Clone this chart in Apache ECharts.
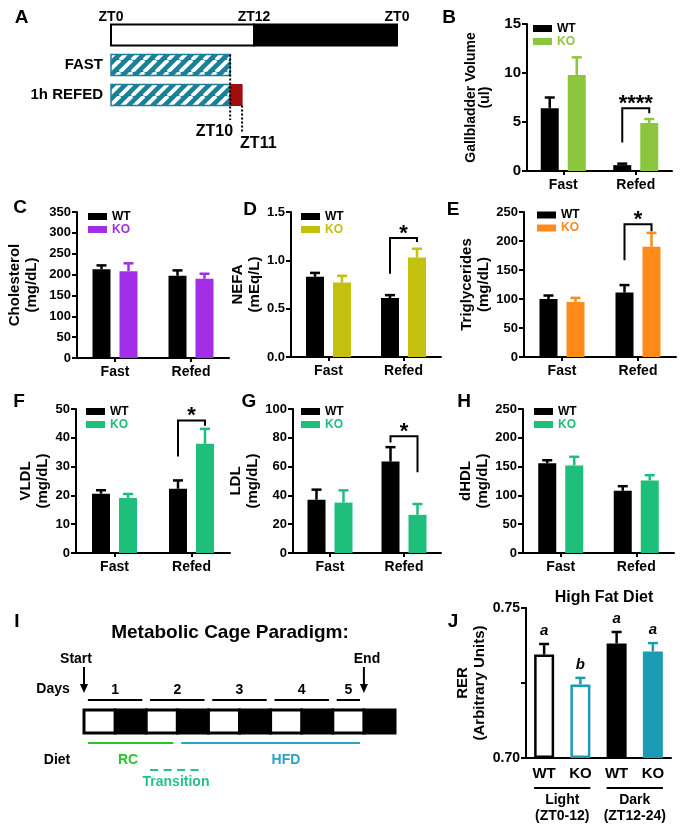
<!DOCTYPE html>
<html>
<head>
<meta charset="utf-8">
<script src="https://cdn.jsdelivr.net/npm/echarts@6/dist/echarts.min.js"></script>
<style>
  html, body { margin: 0; padding: 0; background: #fff; }
  #main { width: 688px; height: 834px; }
</style>
</head>
<body>
<div id="main"></div>
<script>
var FONT = '"Liberation Sans", Arial, Helvetica, sans-serif';
var INK = '#000';

var groups = ['Fast', 'Refed'];

// B-H: mean and SEM, [Fast, Refed]
var gbWT = [6.4, 0.6], gbWTErr = [1.1, 0.15];
var gbKO = [9.8, 4.9], gbKOErr = [1.8, 0.4];
var cholWT = [213, 197], cholWTErr = [9, 13];
var cholKO = [208, 190], cholKOErr = [19, 12];
var nefaWT = [0.83, 0.61], nefaWTErr = [0.04, 0.03];
var nefaKO = [0.77, 1.03], nefaKOErr = [0.07, 0.09];
var tgWT = [100, 111], tgWTErr = [6, 13];
var tgKO = [95, 190], tgKOErr = [7, 24];
var vldlWT = [20.6, 22.3], vldlWTErr = [1.2, 2.9];
var vldlKO = [19.1, 37.9], vldlKOErr = [1.4, 5.2];
var ldlWT = [37, 63.5], ldlWTErr = [7, 10];
var ldlKO = [35, 26.5], ldlKOErr = [8.5, 7.5];
var hdlWT = [156, 108], hdlWTErr = [5, 8];
var hdlKO = [152, 126], hdlKOErr = [15, 9];

// J: RER on high fat diet
var rerCats = ['WT-L', 'KO-L', 'WT-D', 'KO-D'];
var rerMean = [0.7345, 0.7245, 0.7382, 0.7355];
var rerErr = [0.0035, 0.0022, 0.0038, 0.0028];
var rerLetters = ['a', 'b', 'a', 'a'];
var rerGroups = [[0, 1], [2, 3]];
var rerGroupNames = ['Light\n(ZT0-12)', 'Dark\n(ZT12-24)'];

// A: feeding schedule, hours from ZT0  [start, end, row]
var aRows = ['', 'FAST', '1h REFED'];
var aBlocks = [[0, 12, 0], [12, 24, 0], [0, 10, 1], [0, 10, 2], [10, 11, 2]];
var aKinds = ['light', 'dark', 'fast', 'fast', 'food'];
var aMarks = [10, 11];

// I: metabolic cage, hours from start  [start, end, light?]
var cageBlocks = [[0, 12, 1], [12, 24, 0], [24, 36, 1], [36, 48, 0], [48, 60, 1],
                  [60, 72, 0], [72, 84, 1], [84, 96, 0], [96, 108, 1], [108, 120, 0]];
var dayStart = [0, 24, 48, 72, 96];
var dayEnd = [24, 48, 72, 96, 108];
var dayNames = ['1', '2', '3', '4', '5'];
var dietSpans = [[0, 36], [36, 108], [24, 48]];
var cageEvents = [0, 108];

var TEAL_A = '#1b7f99';
var TEAL_J = '#1b9bb6';
var GREEN_FGH = '#1dbf7a';

function hatch() {
  var c = document.createElement('canvas');
  c.width = 12; c.height = 12;
  var g = c.getContext('2d');
  g.fillStyle = TEAL_A;
  g.fillRect(0, 0, 12, 12);
  g.strokeStyle = '#fff';
  g.lineWidth = 3.8;
  [-12, 0, 12].forEach(function (o) {
    g.beginPath(); g.moveTo(o, 12); g.lineTo(o + 12, 0); g.stroke();
  });
  return c;
}
var hatchFill = { image: hatch(), repeat: 'repeat' };

var panels = [
  { id: 'B', wt: gbWT, wtErr: gbWTErr, ko: gbKO, koErr: gbKOErr, color: '#8cc63e',
    max: 15, interval: 5, digits: 0, name: 'Gallbladder Volume\n(ul)', nameSize: 14, nameLH: 14, nameGap: 35, tickSize: 15,
    grid: { left: 527, top: 24, width: 145, height: 147 }, legend: [533, 22],
    bracket: { cat: 1, left: 2.9, top: 6.4, right: 5.9, mark: '****' } },
  { id: 'C', wt: cholWT, wtErr: cholWTErr, ko: cholKO, koErr: cholKOErr, color: '#a22ee8',
    max: 350, interval: 50, digits: 0, name: 'Cholesterol\n(mg/dL)', nameGap: 37,
    grid: { left: 77, top: 212, width: 152, height: 146 }, legend: [88, 210] },
  { id: 'D', wt: nefaWT, wtErr: nefaWTErr, ko: nefaKO, koErr: nefaKOErr, color: '#c4c00e',
    max: 1.5, interval: 0.5, digits: 1, name: 'NEFA\n(mEq/L)', nameGap: 23,
    grid: { left: 291, top: 212, width: 150, height: 145 }, legend: [301, 210],
    bracket: { cat: 1, left: 0.86, top: 1.23, right: 1.19, mark: '*' } },
  { id: 'E', wt: tgWT, wtErr: tgWTErr, ko: tgKO, koErr: tgKOErr, color: '#ff8a1a',
    max: 250, interval: 50, digits: 0, name: 'Triglycerides\n(mg/dL)', nameGap: 29,
    grid: { left: 524, top: 212, width: 152, height: 145 }, legend: [537, 208.5],
    bracket: { cat: 1, left: 167, top: 229, right: 217, mark: '*' } },
  { id: 'F', wt: vldlWT, wtErr: vldlWTErr, ko: vldlKO, koErr: vldlKOErr, color: GREEN_FGH,
    max: 50, interval: 10, digits: 0, name: 'VLDL\n(mg/dL)', nameGap: 22,
    grid: { left: 76, top: 409, width: 154, height: 144 }, legend: [86, 405],
    bracket: { cat: 1, left: 33.5, top: 46, right: 44.2, mark: '*' } },
  { id: 'G', wt: ldlWT, wtErr: ldlWTErr, ko: ldlKO, koErr: ldlKOErr, color: GREEN_FGH,
    max: 100, interval: 20, digits: 0, name: 'LDL\n(mg/dL)', nameGap: 30,
    grid: { left: 293, top: 409, width: 148, height: 144 }, legend: [301, 405],
    bracket: { cat: 1, left: 76.8, top: 81, right: 56, mark: '*' } },
  { id: 'H', wt: hdlWT, wtErr: hdlWTErr, ko: hdlKO, koErr: hdlKOErr, color: GREEN_FGH,
    max: 250, interval: 50, digits: 0, name: 'dHDL\n(mg/dL)', nameGap: 28,
    grid: { left: 523, top: 409, width: 151, height: 144 }, legend: [534, 405] }
];

var BAR_W = 18, SHIFT = 13.5;

function bold(size, color) {
  return { color: color || INK, fontSize: size, fontWeight: 'bold', fontFamily: FONT };
}

function errorBars(i, means, errs, colorAt, shift, letters) {
  return {
    type: 'custom', xAxisIndex: i, yAxisIndex: i, z: 4, silent: true,
    data: means.map(function (m, k) { return [k, m, errs[k]]; }),
    encode: { x: 0, y: 1 },
    renderItem: function (params, api) {
      var k = params.dataIndex;
      var base = api.coord([api.value(0), api.value(1)]);
      var top = api.coord([api.value(0), api.value(1) + api.value(2)]);
      var x = base[0] + shift;
      var s = { stroke: colorAt(k), lineWidth: 2.5 };
      var kids = [
        { type: 'line', shape: { x1: x, y1: base[1], x2: x, y2: top[1] }, style: s },
        { type: 'line', shape: { x1: x - 5, y1: top[1], x2: x + 5, y2: top[1] }, style: s }
      ];
      if (letters) {
        kids.push({ type: 'text', x: x, y: top[1] - 13,
          style: { text: letters[k], fill: INK, fontSize: 15, fontWeight: 'bold', fontStyle: 'italic',
                   fontFamily: FONT, align: 'center', verticalAlign: 'middle' } });
      }
      return { type: 'group', children: kids };
    }
  };
}

function bracket(i, b) {
  return {
    type: 'custom', xAxisIndex: i, yAxisIndex: i, z: 4, silent: true,
    data: [[b.cat, b.left, b.top, b.right]],
    encode: { x: 0, y: [1, 2, 3] },
    renderItem: function (params, api) {
      var c = api.value(0);
      var pl = api.coord([c, api.value(1)]);
      var pt = api.coord([c, api.value(2)]);
      var pr = api.coord([c, api.value(3)]);
      var xl = pl[0] - SHIFT, xr = pl[0] + SHIFT;
      return { type: 'group', children: [
        { type: 'polyline', shape: { points: [[xl, pl[1]], [xl, pt[1]], [xr, pt[1]], [xr, pr[1]]] },
          style: { stroke: INK, lineWidth: 2, fill: 'none' } },
        { type: 'text', x: (xl + xr) / 2, y: pt[1] - 4.5,
          style: { text: b.mark, fill: INK, fontSize: 22, fontWeight: 'bold', fontFamily: FONT,
                   align: 'center', verticalAlign: 'middle' } }
      ] };
    }
  };
}

var option = {
  animation: false,
  backgroundColor: '#fff',
  textStyle: { fontFamily: FONT },
  grid: [], xAxis: [], yAxis: [], legend: [], series: [], graphic: []
};

panels.forEach(function (p, i) {
  option.grid.push(Object.assign({ containLabel: false, outerBoundsMode: 'none' }, p.grid));
  option.xAxis.push({
    type: 'category', gridIndex: i, data: groups,
    axisLine: { show: true, lineStyle: { color: INK, width: 2 } },
    axisTick: { show: true, alignWithLabel: true, length: 4, lineStyle: { color: INK, width: 2 } },
    axisLabel: Object.assign({ margin: 7 }, bold(14)),
    splitLine: { show: false }
  });
  option.yAxis.push({
    type: 'value', gridIndex: i, min: 0, max: p.max, interval: p.interval,
    name: p.name, nameLocation: 'middle', nameRotate: 90, nameGap: p.nameGap,
    nameTextStyle: Object.assign({ lineHeight: p.nameLH || 17 }, bold(p.nameSize || 15)),
    axisLine: { show: true, lineStyle: { color: INK, width: 2 } },
    axisTick: { show: true, length: 5, lineStyle: { color: INK, width: 2 } },
    axisLabel: Object.assign({ margin: 6, formatter: function (v) { return v.toFixed(p.digits); } }, bold(p.tickSize || 13)),
    splitLine: { show: false }
  });
  option.series.push(
    { name: 'WT|' + p.id, type: 'bar', xAxisIndex: i, yAxisIndex: i, data: p.wt,
      barWidth: BAR_W, barGap: '50%', itemStyle: { color: INK }, silent: true },
    { name: 'KO|' + p.id, type: 'bar', xAxisIndex: i, yAxisIndex: i, data: p.ko,
      barWidth: BAR_W, barGap: '50%', itemStyle: { color: p.color }, silent: true },
    errorBars(i, p.wt, p.wtErr, function () { return INK; }, -SHIFT),
    errorBars(i, p.ko, p.koErr, function () { return p.color; }, SHIFT)
  );
  if (p.bracket) option.series.push(bracket(i, p.bracket));
  option.legend.push({
    left: p.legend[0], top: p.legend[1], orient: 'vertical', padding: 0, itemGap: 0,
    itemWidth: 19, itemHeight: 7, icon: 'rect', selectedMode: false,
    textStyle: Object.assign({ lineHeight: 13 }, bold(12)),
    formatter: function (n) { return n.split('|')[0]; },
    data: [{ name: 'WT|' + p.id, textStyle: { color: INK } },
           { name: 'KO|' + p.id, textStyle: { color: p.color } }]
  });
});

// ---- A: schedule
var iA = option.grid.length;
option.grid.push({ left: 111, top: 20, width: 286, height: 90, containLabel: false, outerBoundsMode: 'none' });
option.xAxis.push({
  type: 'value', gridIndex: iA, min: 0, max: 24, interval: 12, position: 'top',
  axisLine: { show: false }, axisTick: { show: false }, splitLine: { show: false },
  axisLabel: Object.assign({ margin: 3, verticalAlign: 'middle', formatter: function (v) { return 'ZT' + (v % 24); } }, bold(14))
});
option.yAxis.push({
  type: 'category', gridIndex: iA, data: aRows, inverse: true,
  axisLine: { show: false }, axisTick: { show: false }, splitLine: { show: false },
  axisLabel: Object.assign({ margin: 8 }, bold(15))
});
var aStyles = {
  light: { fill: '#fff', stroke: INK, lineWidth: 2 },
  dark: { fill: INK, stroke: INK, lineWidth: 2 },
  fast: { fill: hatchFill, stroke: TEAL_A, lineWidth: 1.5 },
  food: { fill: '#a10d0d', stroke: '#a10d0d', lineWidth: 1 }
};
option.series.push({
  type: 'custom', xAxisIndex: iA, yAxisIndex: iA, silent: true,
  data: aBlocks, encode: { x: [0, 1], y: 2 },
  renderItem: function (params, api) {
    var p0 = api.coord([api.value(0), api.value(2)]);
    var p1 = api.coord([api.value(1), api.value(2)]);
    var h = api.size([0, 1])[1] * 0.7;
    return { type: 'rect', shape: { x: p0[0], y: p0[1] - h / 2, width: p1[0] - p0[0], height: h },
             style: aStyles[aKinds[params.dataIndex]] };
  }
}, {
  type: 'custom', xAxisIndex: iA, yAxisIndex: iA, silent: true, z: 5,
  data: aMarks.map(function (h) { return [h]; }), encode: { x: 0 },
  renderItem: function (params, api) {
    var k = params.dataIndex, hr = api.value(0);
    var h = api.size([0, 1])[1] * 0.7;
    var row = api.coord([hr, k + 1]);
    var refed = api.coord([hr, 2]);
    var y1 = k === 0 ? row[1] - h / 2 : row[1] + h / 2;
    var y2 = refed[1] + (k === 0 ? 25 : 37);
    return { type: 'group', children: [
      { type: 'line', shape: { x1: row[0], y1: y1, x2: row[0], y2: y2 },
        style: { stroke: INK, lineWidth: 2, lineDash: [2, 2] } },
      { type: 'text', x: row[0] + (k === 0 ? 3 : -2), y: y2 + 12,
        style: { text: 'ZT' + hr, fill: INK, fontSize: 16, fontWeight: 'bold', fontFamily: FONT,
                 align: k === 0 ? 'right' : 'left', verticalAlign: 'middle' } }
    ] };
  }
});

// ---- I: metabolic cage paradigm
var iI = option.grid.length;
option.grid.push({ left: 84, top: 710, width: 311, height: 23, containLabel: false, outerBoundsMode: 'none' });
option.xAxis.push({ type: 'value', gridIndex: iI, min: 0, max: 120, show: false });
option.yAxis.push({ type: 'category', gridIndex: iI, data: ['cage'], show: false });
var dietStyles = [
  { stroke: '#2cc22c', lineWidth: 2 },
  { stroke: '#2ea2c2', lineWidth: 2 },
  { stroke: '#25c08c', lineWidth: 2, lineDash: [8, 5.5] }
];
option.series.push({
  type: 'custom', xAxisIndex: iI, yAxisIndex: iI, silent: true,
  data: cageBlocks, encode: { x: [0, 1] },
  renderItem: function (params, api) {
    var p0 = api.coord([api.value(0), 0]);
    var p1 = api.coord([api.value(1), 0]);
    var h = api.size([0, 1])[1];
    var light = api.value(2) === 1;
    return { type: 'rect', z2: light ? 2 : 1,
             shape: { x: p0[0], y: p0[1] - h / 2, width: p1[0] - p0[0], height: h },
             style: { fill: light ? '#fff' : INK, stroke: INK, lineWidth: 3 } };
  }
}, {
  type: 'custom', xAxisIndex: iI, yAxisIndex: iI, silent: true,
  data: dayStart.map(function (s, k) { return [s, dayEnd[k]]; }), encode: { x: [0, 1] },
  renderItem: function (params, api) {
    var p0 = api.coord([api.value(0) + 1.5, 0]);
    var p1 = api.coord([api.value(1) - 1.5, 0]);
    var y = p0[1] - api.size([0, 1])[1] / 2 - 10;
    return { type: 'group', children: [
      { type: 'line', shape: { x1: p0[0], y1: y, x2: p1[0], y2: y }, style: { stroke: INK, lineWidth: 2 } },
      { type: 'text', x: (p0[0] + p1[0]) / 2, y: y - 10,
        style: { text: dayNames[params.dataIndex], fill: INK, fontSize: 14, fontWeight: 'bold',
                 fontFamily: FONT, align: 'center', verticalAlign: 'middle' } }
    ] };
  }
}, {
  type: 'custom', xAxisIndex: iI, yAxisIndex: iI, silent: true,
  data: dietSpans, encode: { x: [0, 1] },
  renderItem: function (params, api) {
    var k = params.dataIndex;
    var p0 = api.coord([api.value(0) + 1.5, 0]);
    var p1 = api.coord([api.value(1) - 1.5, 0]);
    var y = p0[1] + api.size([0, 1])[1] / 2 + (k < 2 ? 10 : 37);
    return { type: 'line', shape: { x1: p0[0], y1: y, x2: p1[0], y2: y }, style: dietStyles[k] };
  }
}, {
  type: 'custom', xAxisIndex: iI, yAxisIndex: iI, silent: true,
  data: cageEvents.map(function (h) { return [h]; }), encode: { x: 0 },
  renderItem: function (params, api) {
    var p = api.coord([api.value(0), 0]);
    var top = p[1] - api.size([0, 1])[1] / 2;
    return { type: 'group', children: [
      { type: 'line', shape: { x1: p[0], y1: top - 43, x2: p[0], y2: top - 24 }, style: { stroke: INK, lineWidth: 2 } },
      { type: 'polygon', shape: { points: [[p[0] - 4, top - 26], [p[0] + 4, top - 26], [p[0], top - 17]] },
        style: { fill: INK } }
    ] };
  }
});

// ---- J: RER
var iJ = option.grid.length;
var rerColors = [INK, TEAL_J, INK, TEAL_J];
var rerStyles = [
  { color: '#fff', borderColor: INK, borderWidth: 2.5 },
  { color: '#fff', borderColor: TEAL_J, borderWidth: 2.5 },
  { color: INK },
  { color: TEAL_J }
];
option.grid.push({ left: 526, top: 608, width: 145, height: 150, containLabel: false, outerBoundsMode: 'none' });
option.xAxis.push({
  type: 'category', gridIndex: iJ, data: rerCats,
  axisLine: { show: true, lineStyle: { color: INK, width: 2 } },
  axisTick: { show: false },
  axisLabel: Object.assign({ margin: 8, formatter: function (n) { return n.split('-')[0]; } }, bold(15))
});
option.yAxis.push({
  type: 'value', gridIndex: iJ, min: 0.70, max: 0.75, interval: 0.025, startValue: 0.70,
  name: 'RER\n(Arbitrary Units)', nameLocation: 'middle', nameRotate: 90, nameGap: 38,
  nameTextStyle: Object.assign({ lineHeight: 17 }, bold(15)),
  axisLine: { show: true, lineStyle: { color: INK, width: 2 } },
  axisTick: { show: true, length: 5, lineStyle: { color: INK, width: 2 } },
  axisLabel: Object.assign({ margin: 6, formatter: function (v) {
    return Math.abs(v - 0.725) < 1e-6 ? '' : v.toFixed(2); } }, bold(14)),
  splitLine: { show: false }
});
option.series.push({
  type: 'bar', xAxisIndex: iJ, yAxisIndex: iJ, barWidth: 20, silent: true,
  data: rerMean.map(function (v, k) { return { value: v, itemStyle: rerStyles[k] }; })
}, errorBars(iJ, rerMean, rerErr, function (k) { return rerColors[k]; }, 0, rerLetters), {
  type: 'custom', xAxisIndex: iJ, yAxisIndex: iJ, silent: true,
  data: rerGroups, encode: { x: [0, 1] },
  renderItem: function (params, api) {
    var a = api.coord([api.value(0), 0.70]);
    var b = api.coord([api.value(1), 0.70]);
    var y = a[1] + 30;
    return { type: 'group', children: [
      { type: 'line', shape: { x1: a[0] - 10, y1: y, x2: b[0] + 10, y2: y }, style: { stroke: INK, lineWidth: 2 } },
      { type: 'text', x: (a[0] + b[0]) / 2, y: y + 4,
        style: { text: rerGroupNames[params.dataIndex], fill: INK, fontSize: 14, fontWeight: 'bold',
                 fontFamily: FONT, lineHeight: 16, align: 'center', verticalAlign: 'top' } }
    ] };
  }
});

// ---- free text
function txt(s, x, y, size, color) {
  return { type: 'text', x: x, y: y, silent: true,
    style: { text: s, fill: color || INK, fontSize: size, fontWeight: 'bold', fontFamily: FONT,
             align: 'center', verticalAlign: 'middle' } };
}
option.graphic = [
  txt('A', 21.5, 18, 19), txt('B', 449, 18, 19), txt('C', 20, 208, 19), txt('D', 250, 210, 19),
  txt('E', 453, 210, 19), txt('F', 19, 402, 19), txt('G', 249, 402, 19), txt('H', 464, 402, 19),
  txt('I', 17, 622, 19), txt('J', 453, 622, 19),
  txt('Metabolic Cage Paradigm:', 230, 633, 19),
  txt('High Fat Diet', 604, 598, 16),
  txt('Start', 76, 659, 14), txt('End', 367, 659, 14),
  txt('Days', 53, 689, 14), txt('Diet', 57, 760, 14),
  txt('RC', 128, 760, 14, '#2cc22c'), txt('HFD', 286, 760, 14, '#2ea2c2'),
  txt('Transition', 176, 782, 14, '#25c08c')
];

var chart = echarts.init(document.getElementById('main'), null, { renderer: 'canvas' });
chart.setOption(option);
</script>
</body>
</html>
